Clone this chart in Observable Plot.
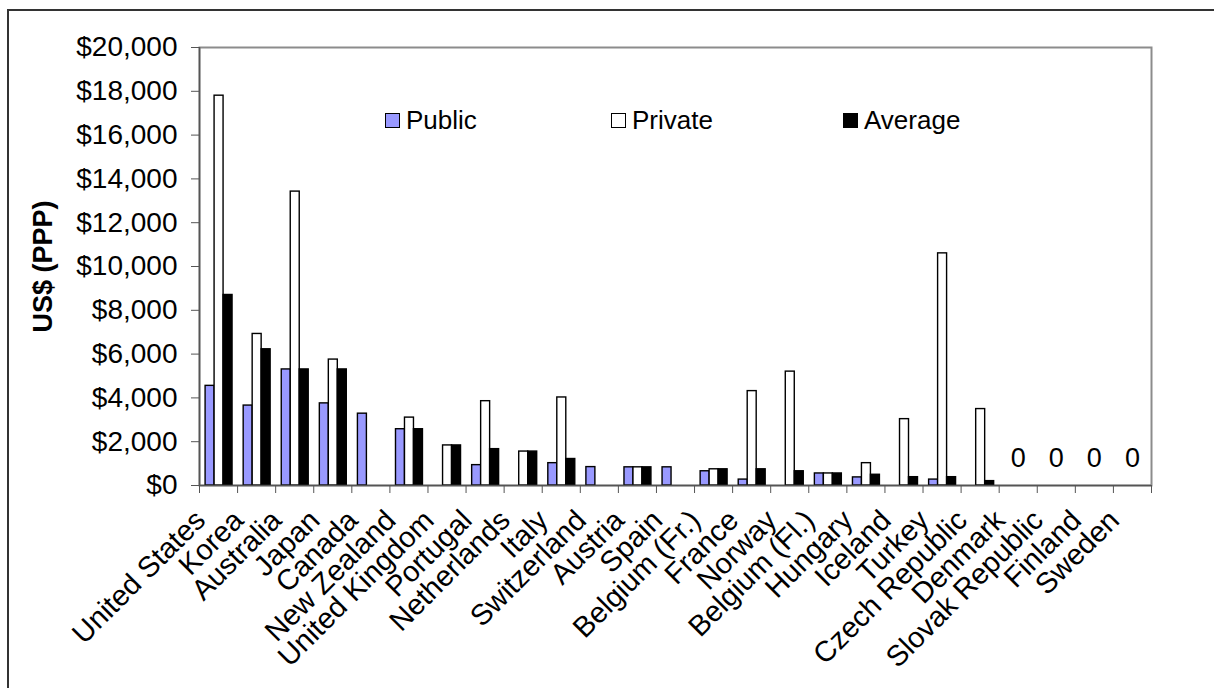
<!DOCTYPE html>
<html>
<head>
<meta charset="utf-8">
<script src="https://cdn.jsdelivr.net/npm/d3@7"></script>
<script src="https://cdn.jsdelivr.net/npm/@observablehq/plot@0.6"></script>
<style>
  html, body { margin: 0; padding: 0; background: #fff; overflow: hidden; }
  #wrap { position: relative; width: 1214px; height: 688px; font-family: "Liberation Sans", Arial, sans-serif; }
  #border { position: absolute; left: 7px; top: 9px; width: 1300px; height: 800px; border: 2px solid #333; box-sizing: border-box; }
  #chart { position: absolute; left: 0; top: 0; }
  .legend-item { position: absolute; display: flex; align-items: center; font-size: 26px; color: #000; line-height: 1; }
  .legend-item .sw { width: 13px; height: 13px; border: 1.3px solid #000; margin-right: 6px; box-sizing: content-box; }
</style>
</head>
<body>
<div id="wrap">
  <div id="border"></div>
  <div id="chart"></div>
  <div id="legend"></div>
</div>
<script>
// Tuition fees per student by country, in US$ (PPP)
const countries = [
  "United States", "Korea", "Australia", "Japan", "Canada", "New Zealand",
  "United Kingdom", "Portugal", "Netherlands", "Italy", "Switzerland", "Austria",
  "Spain", "Belgium (Fr.)", "France", "Norway", "Belgium (Fl.)", "Hungary",
  "Iceland", "Turkey", "Czech Republic", "Denmark", "Slovak Republic", "Finland", "Sweden"
];
const publicFees = [
  4550, 3650, 5300, 3750, 3280, 2570,
  null, 930, null, 1020, 840, 830,
  830, 650, 270, null, 550, 370,
  null, 270, null, null, null, null, null
];
const privateFees = [
  17800, 6920, 13420, 5750, null, 3100,
  1830, 3850, 1550, 4020, null, 830,
  null, 740, 4310, 5200, 550, 1020,
  3030, 10600, 3490, null, null, null, null
];
const averageFees = [
  8700, 6220, 5300, 5300, null, 2570,
  1830, 1660, 1550, 1210, null, 830,
  null, 740, 740, 650, 550, 490,
  380, 380, 200, null, null, null, null
];
// Countries that charge no tuition fees at all
const zeroFeeCountries = ["Denmark", "Slovak Republic", "Finland", "Sweden"];
const yTicks = [0, 2000, 4000, 6000, 8000, 10000, 12000, 14000, 16000, 18000, 20000];

const seriesNames = ["Public", "Private", "Average"];
const seriesFills = ["#9999FF", "#FFFFFF", "#000000"];
const seriesValues = [publicFees, privateFees, averageFees];

// Three bars per country, each taking a slice of the category slot
const groupStart = 0.16, barSpan = 0.236;
const rowsFor = (k) => countries
  .map((c, i) => ({country: c, i, value: seriesValues[k][i]}))
  .filter(d => d.value != null)
  .map(d => ({...d, x1: d.i + groupStart + k * barSpan, x2: d.i + groupStart + (k + 1) * barSpan}));

const zeroRows = zeroFeeCountries.map(c => ({country: c, i: countries.indexOf(c), value: 0}));

const font = '"Liberation Sans", Arial, sans-serif';

const chart = Plot.plot({
  width: 1214,
  height: 688,
  marginLeft: 199,
  marginRight: 63,
  marginTop: 47,
  marginBottom: 203,
  style: {fontFamily: font, fontSize: "28px", color: "#000", background: "transparent"},
  x: {type: "linear", domain: [0, countries.length], axis: null},
  y: {domain: [0, 20000], axis: null},
  marks: [
    Plot.frame({stroke: "#8c8c8c", strokeWidth: 2}),
    ...seriesFills.map((fill, k) => Plot.rectY(rowsFor(k), {
      x1: "x1", x2: "x2", y: "value",
      fill, stroke: "#000", strokeWidth: 1.4
    })),
    Plot.ruleX([0], {stroke: "#555", strokeWidth: 1.5}),
    Plot.ruleY([0], {stroke: "#555", strokeWidth: 1.5}),
    Plot.axisY({
      ticks: yTicks, tickSize: 8, tickPadding: 14,
      tickFormat: d => "$" + d3.format(",")(d),
      stroke: "#555", fontSize: 28, label: null
    }),
    // category boundary ticks
    Plot.axisX({
      ticks: d3.range(countries.length + 1), tickSize: 8,
      tickFormat: () => "", stroke: "#555", label: null
    }),
    // category names
    Plot.axisX({
      ticks: countries.map((c, i) => i + 0.5), tickSize: 0, tickPadding: 30,
      tickRotate: -45, dx: -18,
      tickFormat: d => countries[Math.floor(d)],
      fontSize: 29, label: null
    }),
    Plot.text(zeroRows, {
      x: d => d.i + 0.5, y: "value", text: d => String(d.value),
      dy: -27, fontSize: 27
    }),
    Plot.text(["US$ (PPP)"], {
      frameAnchor: "left", textAnchor: "middle", rotate: -90, dx: -156,
      fontSize: 27, fontWeight: "bold"
    })
  ]
});
document.getElementById("chart").appendChild(chart);

// In-plot legend
const legendPos = [385, 611, 843];
const legend = document.getElementById("legend");
seriesNames.forEach((name, k) => {
  const item = document.createElement("div");
  item.className = "legend-item";
  item.style.left = legendPos[k] + "px";
  item.style.top = "107px";
  const sw = document.createElement("span");
  sw.className = "sw";
  sw.style.background = seriesFills[k];
  const label = document.createElement("span");
  label.textContent = name;
  item.appendChild(sw);
  item.appendChild(label);
  legend.appendChild(item);
});
</script>
</body>
</html>
